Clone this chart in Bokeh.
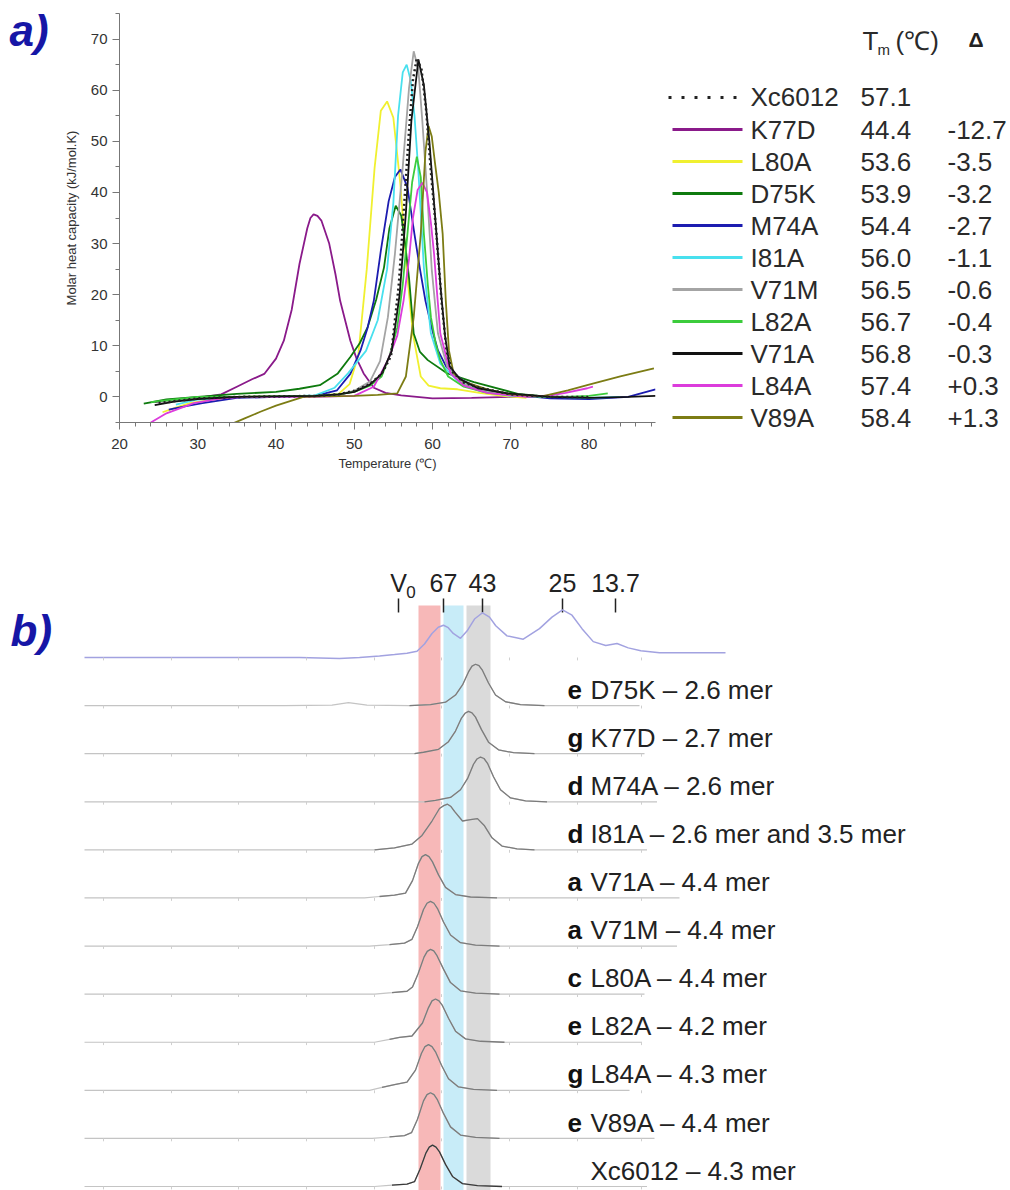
import numpy as np
from bokeh.plotting import figure
from bokeh.models import Range1d, FixedTicker
from bokeh.layouts import column, row
from bokeh.embed import file_html
from bokeh.resources import INLINE
from bokeh.core.properties import value

FONT = "Liberation Sans"

# ---------------- panel a: DSC data ----------------
legend_names = ["Xc6012", "K77D", "L80A", "D75K", "M74A", "I81A", "V71M", "L82A", "V71A", "L84A", "V89A"]
legend_tm = ["57.1", "44.4", "53.6", "53.9", "54.4", "56.0", "56.5", "56.7", "56.8", "57.4", "58.4"]
legend_delta = ["", "-12.7", "-3.5", "-3.2", "-2.7", "-1.1", "-0.6", "-0.4", "-0.3", "+0.3", "+1.3"]
legend_colors = ["#222222", "#8a1a8a", "#f0f030", "#0e7a0e", "#1c1cb0", "#48e0ee",
                 "#a4a4a4", "#3ccc3c", "#111111", "#dc3cdc", "#7c7c14"]

temp_xc6012 = [25, 30, 35, 40, 45, 48, 50, 52, 53.5, 54.7, 55.7, 56.4, 57.0, 57.5, 58.0, 58.6, 59.2, 59.8, 60.5, 61.2, 61.8, 62.5, 64, 66, 70, 75, 80]
cp_xc6012 = [-1.2, -0.3, 0, 0.1, 0.2, 0.5, 1.2, 2.5, 4.5, 8, 22, 38, 52, 62, 66.3, 64, 56, 44, 32, 18, 9, 5, 2.8, 1.8, 0.5, 0, 0]

temp_k77d = [24.5, 27, 30, 33, 35, 37, 38.5, 40, 41, 42, 43, 44, 44.4, 44.8, 45.3, 45.8, 46.8, 47.6, 48.2, 49.5, 50.3, 51.2, 52.5, 54, 56, 60, 65, 70, 76]
cp_k77d = [-1.0, -0.6, -0.2, 0.5, 2, 3.5, 4.5, 7.5, 11, 17, 26, 33, 35.0, 35.7, 35.4, 34.5, 30, 24, 18.8, 11, 7.5, 4.6, 1.8, 0.8, 0.3, -0.3, -0.2, 0, 0]

temp_l80a = [25.5, 27, 29, 32, 35, 40, 45, 48, 49.4, 50.5, 51.6, 52.6, 53.4, 54.2, 55.0, 55.9, 56.7, 57.5, 58.5, 59.5, 61, 63.2, 66, 69, 72]
cp_l80a = [-3, -2.2, -1.2, -0.5, 0, 0.1, 0.2, 0.6, 2.5, 8, 25, 44.8, 56, 57.8, 54.6, 41.5, 25, 12.3, 4, 2.2, 1.7, 1.5, 0.8, 0.2, -0.2]

temp_d75k = [23.1, 26, 30, 35, 40, 43, 45.6, 47.9, 49.5, 50.7, 51.7, 52.8, 53.8, 54.5, 55.3, 56.0, 56.5, 57.0, 57.6, 58.4, 59.4, 61.9, 65.3, 70.9, 75]
cp_d75k = [-1.3, -0.5, 0, 0.6, 1, 1.6, 2.3, 4.6, 7.8, 10.5, 13.6, 19, 25.3, 33, 37.4, 35.5, 30, 23.3, 12.4, 8.8, 7.2, 4.6, 2.9, 0.6, 0]

temp_m74a = [26.3, 28.5, 30.6, 35, 40, 45, 47.8, 49.5, 50.8, 51.7, 52.5, 53.4, 54.4, 55.2, 55.9, 56.8, 57.7, 58.4, 59.1, 59.9, 60.7, 61.8, 63.9, 66, 69.3, 75, 80, 85, 88.5]
cp_m74a = [-2.5, -1.8, -1.2, -0.2, 0, 0.2, 1.3, 4.5, 9.1, 13.5, 18.8, 28.6, 38.3, 43, 44.5, 41, 31.8, 25, 18.8, 13.5, 9.1, 5.8, 3.2, 1.8, 0.6, -0.3, -0.4, 0, 1.5]

temp_i81a = [27.2, 30, 35, 40, 45, 47.5, 49.2, 51.5, 53, 54.2, 55.0, 55.6, 56.2, 56.7, 57.2, 57.7, 58.2, 58.9, 59.8, 61, 63.2, 66, 70, 75, 80, 84]
cp_i81a = [-1.5, -0.5, 0, 0, 0.3, 1.8, 4.6, 9, 15, 25, 38, 55, 63.5, 65, 62, 55, 44, 25.3, 12.4, 6.5, 3.2, 1.2, 0.2, 0, -0.2, 0]

temp_v71m = [25, 30, 35, 40, 45, 48, 50, 52, 53.3, 54.3, 55.2, 56.2, 57.0, 57.6, 58.2, 58.7, 59.4, 59.9, 60.7, 61.9, 64, 68, 72, 78]
cp_v71m = [-1, -0.3, 0, 0.1, 0.2, 0.5, 1.2, 3, 7, 15.6, 28, 45, 60.4, 67.6, 64, 54, 38, 25, 12.4, 5.8, 2.5, 0.8, 0.2, 0]

temp_l82a = [24, 27, 30, 35, 40, 45, 48, 50, 52, 53.5, 54.5, 55.5, 56.2, 56.8, 57.4, 58.0, 58.5, 58.9, 59.4, 59.8, 60.4, 61.0, 62, 64, 67, 72, 77, 80, 82.4]
cp_l82a = [-1, -0.5, 0, 0, 0.1, 0.2, 0.5, 1, 2.2, 4, 8, 13.6, 22, 31.9, 42, 47, 43, 31.9, 22, 15.6, 10.5, 7.2, 4, 2, 0.8, 0.1, 0, 0.2, 0.7]

temp_v71a = [24.5, 27, 30, 35, 40, 45, 48, 50, 52, 53.5, 54.8, 55.8, 56.6, 57.3, 58.2, 58.9, 59.6, 60.3, 61.0, 61.6, 62.2, 63.5, 65.8, 69.6, 75, 80, 85, 88.5]
cp_v71a = [-1.6, -0.9, -0.4, 0, 0.1, 0.2, 0.5, 1, 2.4, 4.5, 9, 20, 36, 54, 66, 61, 50, 36, 22, 12, 6, 3.5, 1.7, 0.7, 0, -0.2, 0, 0.2]

temp_l84a = [24, 26, 29.5, 33, 36, 40, 45, 50, 52.5, 54.3, 55.5, 56.3, 57.0, 57.5, 58.1, 58.7, 59.3, 59.8, 60.2, 60.6, 61.0, 62.3, 64, 67, 72, 75.1, 77, 79.8, 80.5]
cp_l84a = [-5, -3.2, -1.2, -0.3, 0, 0, 0, 0.2, 2, 7.2, 12, 18.8, 27, 35, 40.5, 41.9, 40, 34, 28, 20, 12.4, 4.6, 2.2, 0.8, 0, 0.3, 0.8, 1.7, 2]

temp_v89a = [34, 36, 38, 40, 43.5, 46, 50, 53, 55.5, 56.6, 57.6, 58.5, 59.1, 59.5, 59.9, 60.3, 60.8, 61.3, 61.7, 62.1, 62.7, 64, 67, 70, 74, 77.3, 80, 84, 88.3]
cp_v89a = [-5.5, -4.2, -2.9, -1.7, 0, 0.1, 0.2, 0.4, 0.7, 4, 15.6, 31.9, 48, 53, 51, 46, 40, 31.9, 18.8, 9.1, 4.6, 3, 1.5, 0.5, 0.1, 1.3, 2.4, 4, 5.6]

x_major_ticks = [20, 30, 40, 50, 60, 70, 80]
y_major_ticks = [0, 10, 20, 30, 40, 50, 60, 70]

# ---------------- panel b: SEC data ----------------
marker_labels = ["V", "67", "43", "25", "13.7"]
marker_pos = [12.56, 14.36, 15.92, 19.12, 21.24]

band_left = [13.36, 14.36, 15.28]
band_right = [14.24, 15.16, 16.24]
band_colors = ["#f7b8b8", "#c8ecf8", "#dadada"]

baseline_ticks = [0.76, 3.48, 6.16, 8.88, 11.6, 14.28, 17.0, 19.72, 22.28]

std_u = [0, 4.6, 8.6, 10.2, 11.0, 11.8, 12.4, 12.9, 13.3, 13.6, 13.9, 14.15, 14.36, 14.55, 14.75, 15.04, 15.3, 15.6, 15.92, 16.2, 16.45, 16.9, 17.55, 18.2, 18.7, 19.12, 19.5, 19.9, 20.35, 20.85, 21.3, 21.75, 22.25, 23.0, 24.2, 25.64]
std_h = [0, 0, 0, -0.02, 0, 0.03, 0.06, 0.09, 0.13, 0.28, 0.5, 0.63, 0.67, 0.62, 0.5, 0.4, 0.55, 0.8, 0.93, 0.84, 0.66, 0.45, 0.38, 0.6, 0.84, 0.99, 0.88, 0.6, 0.33, 0.25, 0.29, 0.2, 0.14, 0.1, 0.1, 0.1]

sec_names = ["D75K", "K77D", "M74A", "I81A", "V71A", "V71M", "L80A", "L82A", "L84A", "V89A", "Xc6012"]
sec_letters = ["e", "g", "d", "d", "a", "a", "c", "e", "g", "e", ""]
sec_mer = ["2.6 mer", "2.7 mer", "2.6 mer", "2.6 mer and 3.5 mer", "4.4 mer", "4.4 mer",
           "4.4 mer", "4.2 mer", "4.3 mer", "4.4 mer", "4.3 mer"]

u_d75k = [0, 8.0, 9.9, 10.56, 11.3, 13.0, 13.84, 14.44, 14.84, 15.12, 15.36, 15.5, 15.64, 15.78, 15.92, 16.16, 16.44, 16.84, 17.44, 18.4, 22.2]
h_d75k = [0, 0, 0.01, 0.06, 0.01, 0, 0.02, 0.07, 0.22, 0.43, 0.7, 0.82, 0.86, 0.83, 0.73, 0.47, 0.22, 0.08, 0.02, 0, 0]
u_k77d = [0, 13.2, 13.56, 14.16, 14.56, 14.84, 15.08, 15.22, 15.36, 15.5, 15.64, 15.88, 16.16, 16.56, 17.16, 18.0, 22.4]
h_k77d = [0, 0, 0.03, 0.09, 0.25, 0.47, 0.74, 0.84, 0.88, 0.85, 0.76, 0.5, 0.24, 0.08, 0.02, 0, 0]
u_m74a = [0, 13.6, 14.04, 14.64, 15.04, 15.32, 15.56, 15.7, 15.84, 15.98, 16.12, 16.36, 16.64, 17.04, 17.64, 18.5, 22.9]
h_m74a = [0, 0, 0.03, 0.09, 0.25, 0.48, 0.78, 0.89, 0.93, 0.9, 0.8, 0.52, 0.25, 0.08, 0.02, 0, 0]
u_i81a = [0, 11.6, 12.4, 13.1, 13.5, 13.9, 14.2, 14.37, 14.52, 14.66, 14.8, 15.12, 15.44, 15.72, 16.0, 16.3, 16.7, 17.3, 18.0, 22.5]
h_i81a = [0, 0, 0.04, 0.12, 0.3, 0.6, 0.86, 0.92, 0.95, 0.9, 0.8, 0.6, 0.63, 0.65, 0.5, 0.25, 0.08, 0.02, 0, 0]
u_v71a = [0, 11.2, 11.8, 12.4, 12.84, 13.12, 13.36, 13.5, 13.64, 13.78, 13.92, 14.16, 14.44, 14.84, 15.44, 16.5, 23.8]
h_v71a = [0, 0, 0.03, 0.06, 0.1, 0.36, 0.72, 0.86, 0.9, 0.86, 0.75, 0.48, 0.22, 0.07, 0.02, 0, 0]
u_v71m = [0, 11.4, 12.2, 12.8, 13.1, 13.32, 13.56, 13.7, 13.84, 13.98, 14.12, 14.36, 14.64, 15.04, 15.64, 16.6, 23.7]
h_v71m = [0, 0, 0.03, 0.06, 0.14, 0.4, 0.76, 0.89, 0.93, 0.89, 0.78, 0.5, 0.23, 0.07, 0.02, 0, 0]
u_l80a = [0, 11.6, 12.3, 12.9, 13.12, 13.34, 13.58, 13.71, 13.84, 13.97, 14.1, 14.36, 14.64, 15.04, 15.64, 16.6, 22.4]
h_l80a = [0, 0, 0.03, 0.06, 0.15, 0.42, 0.77, 0.89, 0.93, 0.9, 0.8, 0.52, 0.24, 0.07, 0.02, 0, 0]
u_l82a = [0, 11.6, 12.2, 12.6, 13.1, 13.52, 13.76, 13.9, 14.04, 14.18, 14.32, 14.56, 14.84, 15.24, 15.84, 16.8, 22.3]
h_l82a = [0, 0, 0.06, 0.1, 0.13, 0.4, 0.72, 0.86, 0.9, 0.86, 0.76, 0.5, 0.23, 0.07, 0.02, 0, 0]
u_l84a = [0, 11.4, 11.9, 12.4, 12.9, 13.24, 13.48, 13.62, 13.76, 13.9, 14.04, 14.28, 14.56, 14.96, 15.56, 16.5, 21.8]
h_l84a = [0, 0, 0.06, 0.12, 0.17, 0.42, 0.77, 0.91, 0.95, 0.91, 0.8, 0.52, 0.24, 0.07, 0.02, 0, 0]
u_v89a = [0, 11.5, 12.2, 12.8, 13.08, 13.32, 13.56, 13.7, 13.84, 13.98, 14.12, 14.36, 14.64, 15.04, 15.64, 16.6, 22.8]
h_v89a = [0, 0, 0.03, 0.06, 0.12, 0.4, 0.78, 0.91, 0.95, 0.91, 0.8, 0.52, 0.24, 0.07, 0.02, 0, 0]
u_xc6012 = [0, 11.6, 12.3, 12.9, 13.2, 13.42, 13.66, 13.79, 13.92, 14.06, 14.2, 14.44, 14.72, 15.12, 15.72, 16.7, 22.5]
h_xc6012 = [0, 0, 0.03, 0.05, 0.1, 0.36, 0.7, 0.82, 0.86, 0.82, 0.72, 0.46, 0.21, 0.06, 0.02, 0, 0]


def bare(fig):
    fig.outline_line_color = None
    fig.grid.visible = False
    fig.border_fill_color = "white"
    fig.background_fill_color = "white"
    fig.frame_align = False
    return fig


# =====================================================================
# "a)" tag figure
# =====================================================================
ptag = bare(figure(width=60, height=492, x_range=Range1d(0, 60), y_range=Range1d(492, 0),
                   output_backend="svg", toolbar_location=None,
                   x_axis_location=None, y_axis_location=None, min_border=0))
ptag.text(x=[9], y=[30], text=["a)"], text_font=value(FONT), text_font_size="44px",
          text_font_style="bold italic", text_baseline="middle", text_color="#1616a6")

# =====================================================================
# Panel a figure
# =====================================================================
pa = bare(figure(width=598, height=492, x_range=Range1d(20, 88.5), y_range=Range1d(-5, 75),
                 output_backend="svg", toolbar_location=None,
                 min_border_left=59, min_border_right=3, min_border_top=13, min_border_bottom=70))

dsc_series = {
    "Xc6012": (temp_xc6012, cp_xc6012), "K77D": (temp_k77d, cp_k77d), "L80A": (temp_l80a, cp_l80a),
    "D75K": (temp_d75k, cp_d75k), "M74A": (temp_m74a, cp_m74a), "I81A": (temp_i81a, cp_i81a),
    "V71M": (temp_v71m, cp_v71m), "L82A": (temp_l82a, cp_l82a), "V71A": (temp_v71a, cp_v71a),
    "L84A": (temp_l84a, cp_l84a), "V89A": (temp_v89a, cp_v89a),
}
color_of = dict(zip(legend_names, legend_colors))
draw_order = ["K77D", "L80A", "D75K", "M74A", "I81A", "V71M", "L82A", "L84A", "V89A", "V71A", "Xc6012"]
for nm in draw_order:
    t, c = dsc_series[nm]
    if nm == "Xc6012":
        pa.line(t, c, line_color=color_of[nm], line_width=2.5, line_dash="2 3")
    else:
        pa.line(t, c, line_color=color_of[nm], line_width=1.8)

for ax in (pa.xaxis[0], pa.yaxis[0]):
    ax.axis_line_color = "#777777"
    ax.major_tick_line_color = "#777777"
    ax.minor_tick_line_color = "#777777"
    ax.major_tick_in = 0
    ax.major_tick_out = 7
    ax.minor_tick_in = 0
    ax.minor_tick_out = 4
    ax.major_label_text_font = FONT
    ax.major_label_text_font_size = "15px"
    ax.major_label_text_color = "#333333"
    ax.axis_label_text_font = FONT
    ax.axis_label_text_font_size = "13px"
    ax.axis_label_text_font_style = "normal"
    ax.axis_label_text_color = "#333333"

pa.xaxis.ticker = FixedTicker(ticks=x_major_ticks, minor_ticks=list(range(20, 89, 2)))
pa.yaxis.ticker = FixedTicker(ticks=y_major_ticks, minor_ticks=list(range(-5, 76, 5)))
pa.xaxis.major_label_standoff = 9
pa.yaxis.major_label_standoff = 5
pa.xaxis.axis_label = "Temperature (\u2103)"
pa.yaxis.axis_label = "Molar heat capacity (kJ/mol.K)"
pa.xaxis.axis_label_standoff = 4
pa.yaxis.axis_label_standoff = 9

# =====================================================================
# Legend / Tm table figure
# =====================================================================
pl = bare(figure(width=352, height=492, x_range=Range1d(0, 352), y_range=Range1d(12.34, -3.03),
                 output_backend="svg", toolbar_location=None,
                 x_axis_location=None, y_axis_location=None, min_border=0))

rows = list(range(len(legend_names)))
pl.segment(x0=[10], x1=[84], y0=rows[:1], y1=rows[:1], line_color=legend_colors[0],
           line_width=3, line_dash="3 10")
pl.segment(x0=[14] * (len(rows) - 1), x1=[84] * (len(rows) - 1), y0=rows[1:], y1=rows[1:],
           line_color=legend_colors[1:], line_width=3)
txt = dict(text_font=value(FONT), text_font_size="26px", text_baseline="middle", text_color="#2a2a2a")
pl.text(x=[92] * len(rows), y=rows, text=legend_names, **txt)
pl.text(x=[202] * len(rows), y=rows, text=legend_tm, **txt)
pl.text(x=[289] * len(rows), y=rows, text=legend_delta, **txt)
pl.text(x=[204], y=[-1.78], text=["T"], **txt)
pl.text(x=[219], y=[-1.5], text=["m"], text_font=value(FONT), text_font_size="15px",
        text_baseline="middle", text_color="#2a2a2a")
pl.text(x=[237], y=[-1.78], text=["(\u2103)"], **txt)
pl.text(x=[310], y=[-1.82], text=["\u0394"], text_font=value(FONT), text_font_size="21px",
        text_font_style="bold", text_baseline="middle", text_color="#222222")

# =====================================================================
# Panel b figure
# =====================================================================
pb = bare(figure(width=1010, height=698, x_range=Range1d(-3.36, 37.04), y_range=Range1d(-0.083, 14.431),
                 output_backend="svg", toolbar_location=None,
                 x_axis_location=None, y_axis_location=None, min_border=0))

pb.quad(left=band_left, right=band_right, bottom=-0.2, top=12.08, fill_color=band_colors, line_color=None)

pb.segment(x0=marker_pos, x1=marker_pos, y0=[11.936] * len(marker_pos), y1=[12.227] * len(marker_pos),
           line_color="#222222", line_width=1.5)
pb.text(x=marker_pos, y=[12.54] * len(marker_pos), text=marker_labels, text_align="center",
        text_baseline="middle", text_font=value(FONT), text_font_size="25px", text_color="#222222")
pb.text(x=[marker_pos[0] + 0.5], y=[12.37], text=["0"], text_align="center",
        text_baseline="middle", text_font=value(FONT), text_font_size="17px", text_color="#222222")

sec_u = [u_d75k, u_k77d, u_m74a, u_i81a, u_v71a, u_v71m, u_l80a, u_l82a, u_l84a, u_v89a, u_xc6012]
sec_h = [h_d75k, h_k77d, h_m74a, h_i81a, h_v71a, h_v71m, h_l80a, h_l82a, h_l84a, h_v89a, h_xc6012]
n = len(sec_names)

# molecular-weight standard trace (top)
std_off = n
pb.line(std_u, [h + std_off for h in std_h], line_color="#a2a2e0", line_width=1.5)
pb.segment(x0=baseline_ticks, x1=baseline_ticks, y0=[std_off] * len(baseline_ticks),
           y1=[std_off - 0.06] * len(baseline_ticks), line_color="#cfcfcf", line_width=1)

for i in range(n):
    off = n - 1 - i
    u = np.array(sec_u[i], dtype=float)
    h = np.array(sec_h[i], dtype=float)
    pb.line(u, h + off, line_color="#c4c4c4", line_width=1.2)
    big = np.where(h >= 0.2)[0]
    a, b = max(big[0] - 3, 0), min(big[-1] + 3, len(h) - 1)
    dark = "#3a3a3a" if sec_names[i] == "Xc6012" else "#7c7c7c"
    pb.line(u[a:b + 1], h[a:b + 1] + off, line_color=dark, line_width=1.3)
    pb.segment(x0=baseline_ticks, x1=baseline_ticks, y0=[off] * len(baseline_ticks),
               y1=[off - 0.06] * len(baseline_ticks), line_color="#cfcfcf", line_width=1)

label_y = [n - 1 - i + 0.33 for i in range(n)]
pb.text(x=[19.32] * n, y=label_y, text=sec_letters, text_font=value(FONT), text_font_size="26px",
        text_font_style="bold", text_baseline="middle", text_color="#111111")
pb.text(x=[20.24] * n, y=label_y, text=[f"{nm} \u2013 {m}" for nm, m in zip(sec_names, sec_mer)],
        text_font=value(FONT), text_font_size="26px", text_baseline="middle", text_color="#222222")

pb.text(x=[-2.96], y=[11.56], text=["b)"], text_font=value(FONT), text_font_size="44px",
        text_font_style="bold italic", text_baseline="middle", text_color="#1616a6")

layout = column(row(ptag, pa, pl), pb)
open("out.html", "w").write(file_html(layout, INLINE))
